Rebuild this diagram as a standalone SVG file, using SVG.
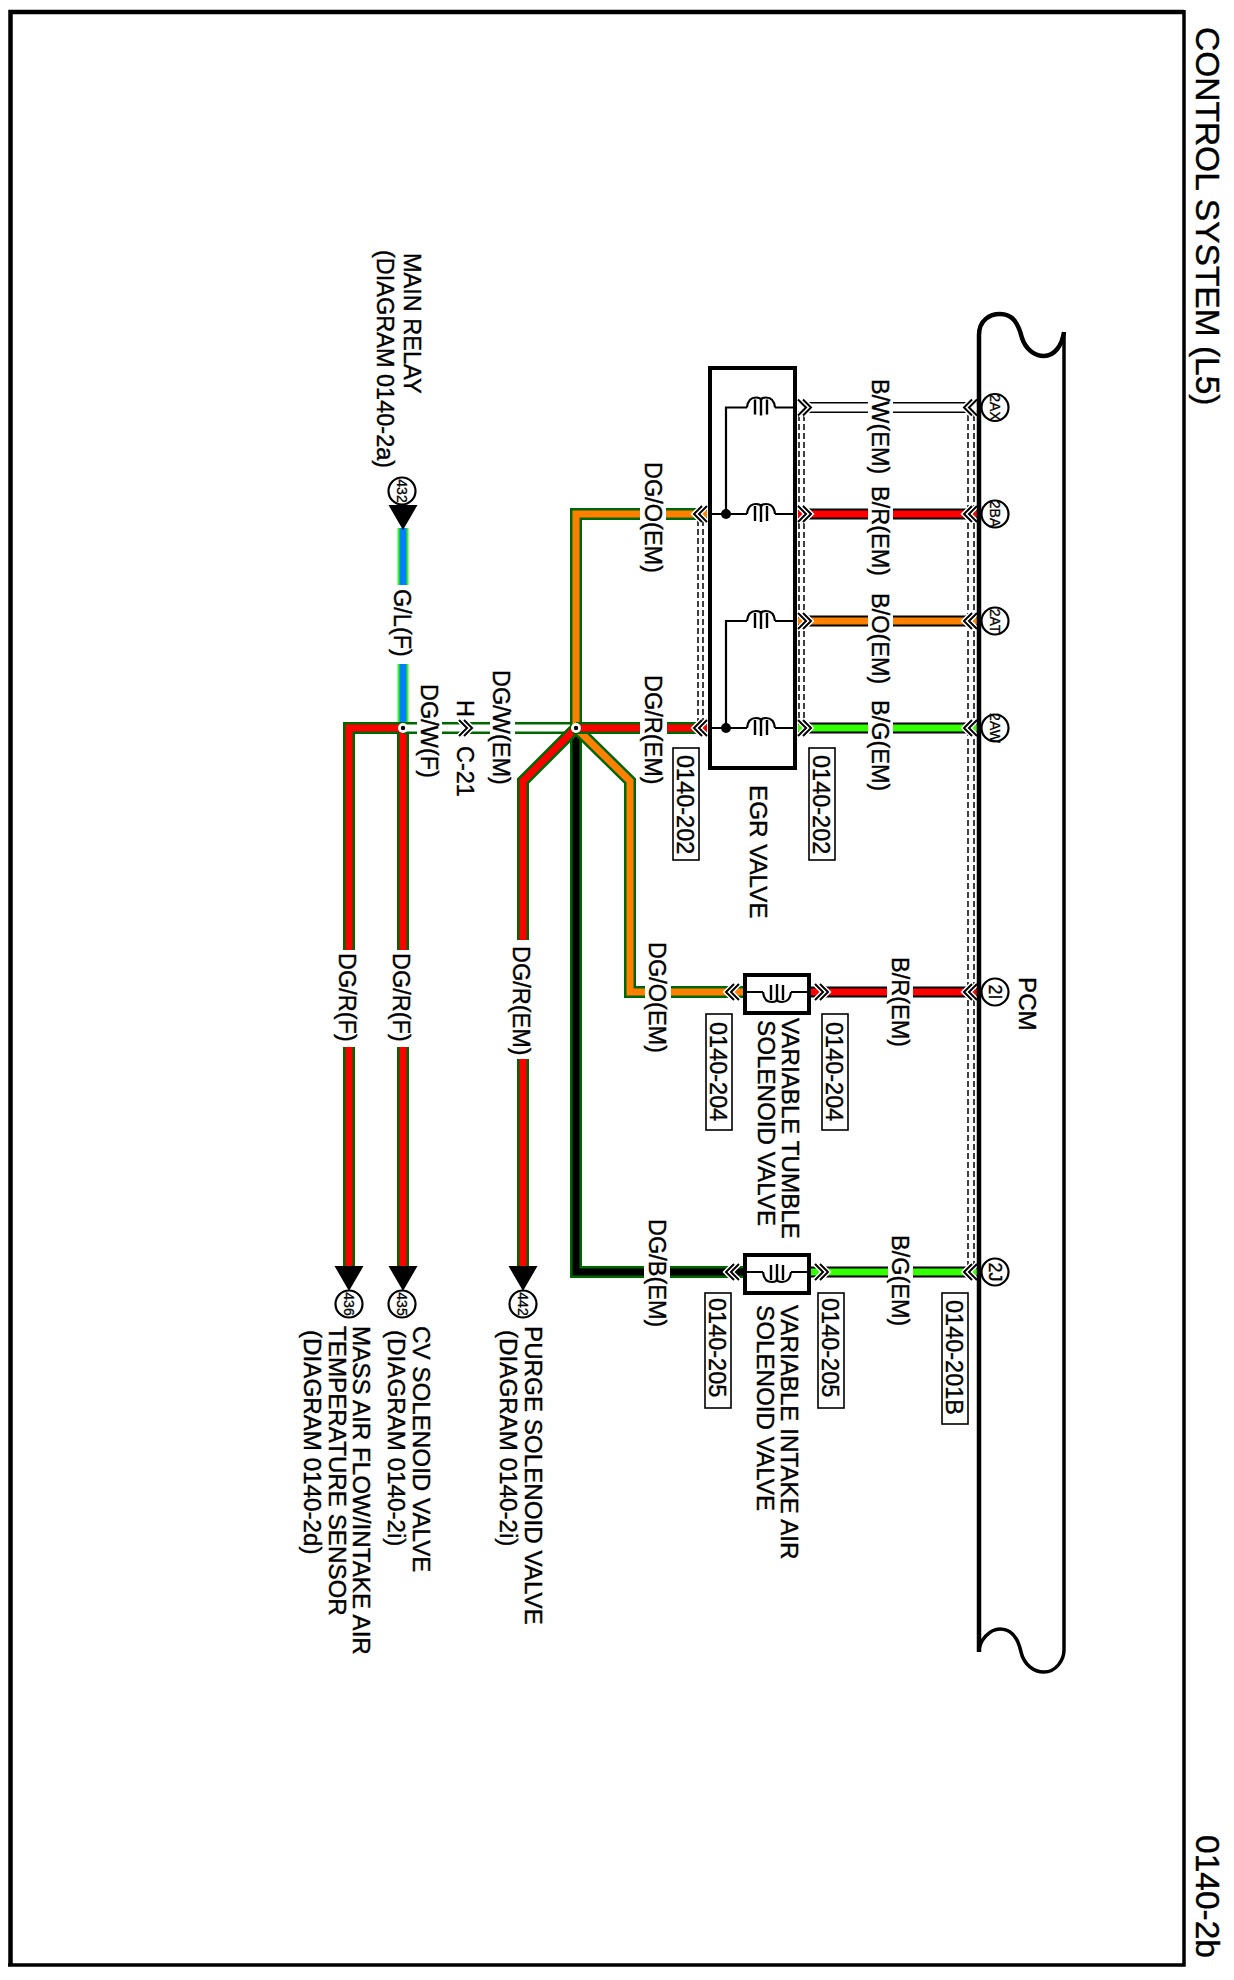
<svg xmlns="http://www.w3.org/2000/svg" width="1234" height="1980" viewBox="0 0 1234 1980">
<style>
.t{font-family:"Liberation Sans",Arial,sans-serif;font-size:23.5px;fill:#000;stroke:#000;stroke-width:.4}
.n{font-size:24.200px}
.h{font-size:33.500px}
.c{font-size:14px;text-anchor:middle;stroke-width:.3}
.c2{font-size:18px;text-anchor:middle}
.w{fill:none;stroke-linejoin:miter}
.o{stroke-width:12;stroke:#006600}
.ok{stroke-width:11;stroke:#000}
.ol{stroke-width:11;stroke:#33ff00}
.i{stroke-width:7}
.red{stroke:#ff0000}.org{stroke:#ff8000}.grn{stroke:#33ff00}.blu{stroke:#0080ff}.blk{stroke:#000}.wht{stroke:#fff}
.bus{fill:none;stroke:#000;stroke-linejoin:round}
.sh{fill:none;stroke:#000;stroke-width:1.500;stroke-dasharray:6 3}
.ln{fill:none;stroke:#000;stroke-width:2.200}
.pin{fill:#fff;stroke:#000;stroke-width:2.200}
.ref{fill:#fff;stroke:#000;stroke-width:1.600}
.box{fill:none;stroke:#000;stroke-width:4}
.sol{fill:#fff;stroke:#000;stroke-width:4}
</style>
<defs>
<g id="chevL"><path d="M9 -8L1 0L9 8M14 -8L6 0L14 8" fill="none" stroke="#fff" stroke-width="5"/><path d="M9 -8L1 0L9 8M14 -8L6 0L14 8" fill="none" stroke="#000" stroke-width="2"/></g>
<g id="chevR"><path d="M0 -8L8 0L0 8M5 -8L13 0L5 8" fill="none" stroke="#fff" stroke-width="5"/><path d="M0 -8L8 0L0 8M5 -8L13 0L5 8" fill="none" stroke="#000" stroke-width="2"/></g>
<g id="coil"><path d="M0 0Q1 -10 9 -10Q14 -10 14 -7Q14 -10 19 -10Q27 -10 28 0" fill="none" stroke="#000" stroke-width="2.200"/><path d="M8 -8V7M14 -8V8M20 -8V7" fill="none" stroke="#000" stroke-width="2.400"/></g>
<path id="arrow" d="M-14.500 0H14.500L0 25Z" fill="#000"/>
</defs>
<rect width="1234" height="1980" fill="#fff"/>
<g id="frame">
<path d="M10.500 1965V12H1184" fill="none" stroke="#000" stroke-width="4.500"/>
<path d="M1184 10V1965H8" fill="none" stroke="#000" stroke-width="3.500"/>
<text class="t h" transform="translate(1196 27) rotate(90)">CONTROL SYSTEM (L5)</text>
<text class="t h" transform="translate(1196 1835) rotate(90)">0140-2b</text>
</g>
<g id="connectors">
<path class="sh" d="M968 415V1265M974 415V1265M799 415V722M804 415V722M698 520V722M703 520V722"/>
<path class="w ok" d="M798 407.500H868M893 407.500H977"/><path class="w wht" style="stroke-width:8" d="M790 407.500H868M893 407.500H977"/>
<path class="w ok" d="M798 514H868M893 514H977"/><path class="w i red" d="M798 514H868M893 514H977"/>
<path class="w ok" d="M798 621H868M893 621H977"/><path class="w i org" d="M798 621H868M893 621H977"/>
<path class="w ok" d="M798 728H868M893 728H977"/><path class="w i grn" d="M798 728H868M893 728H977"/>
<path class="w ok" d="M809 992H887M913 992H977"/><path class="w i red" d="M809 992H887M913 992H977"/>
<path class="w ok" d="M809 1272H888M913 1272H977"/><path class="w i grn" d="M809 1272H888M913 1272H977"/>
<path class="w ol" d="M403 528V585M403 664V726"/><path class="w i blu" d="M403 528V585M403 664V726"/>
<path class="w o" d="M349 1268V1047M349 950V728H403V950M403 1047V1268"/><path class="w i red" d="M349 1268V1047M349 950V728H403V950M403 1047V1268"/>
<path class="w o" d="M403 728H417M442 728H490M515 728H576"/><path class="w i wht" d="M403 728H417M442 728H490M515 728H576"/>
<path class="w o" d="M576 728V1272H644M670 1272H743"/><path class="w i blk" d="M576 728V1272H644M670 1272H743"/>
<path class="w o" d="M576 728L523 781V940M523 1059V1268"/><path class="w i red" d="M576 728L523 781V940M523 1059V1268"/>
<path class="w o" d="M576 728L630 781V992H645M671 992H743"/><path class="w i org" d="M576 728L630 781V992H645M671 992H743"/>
<path class="w o" d="M576 728V514H640M666 514H707"/><path class="w i org" d="M576 728V514H640M666 514H707"/>
<path class="w o" d="M576 728H640M667 728H707"/><path class="w i red" d="M576 728H640M667 728H707"/>
<use href="#arrow" transform="translate(403 505)"/>
<use href="#arrow" transform="translate(349 1266)"/>
<use href="#arrow" transform="translate(403 1266)"/>
<use href="#arrow" transform="translate(523 1266)"/>
<circle cx="403" cy="728" r="5" fill="#fff"/><circle cx="403" cy="728" r="2.200" fill="#000"/>
<circle cx="576" cy="728" r="5" fill="#fff"/><circle cx="576" cy="728" r="2.200" fill="#000"/>
<use href="#chevR" transform="translate(459 728)"/>
<use href="#chevL" transform="translate(963 407.500)"/><use href="#chevL" transform="translate(963 514)"/><use href="#chevL" transform="translate(963 621)"/><use href="#chevL" transform="translate(963 728)"/><use href="#chevL" transform="translate(963 992)"/><use href="#chevL" transform="translate(963 1272)"/>
<use href="#chevR" transform="translate(798 407.500)"/><use href="#chevR" transform="translate(798 514)"/><use href="#chevR" transform="translate(798 621)"/><use href="#chevR" transform="translate(798 728)"/>
<use href="#chevR" transform="translate(815 992)"/><use href="#chevR" transform="translate(815 1272)"/>
<use href="#chevL" transform="translate(693 514)"/><use href="#chevL" transform="translate(693 728)"/>
<use href="#chevL" transform="translate(725 992)"/><use href="#chevL" transform="translate(725 1272)"/>
<text class="t" transform="translate(872 379) rotate(90)">B/W(EM)</text>
<text class="t" transform="translate(872 486) rotate(90)">B/R(EM)</text>
<text class="t" transform="translate(872 593) rotate(90)">B/O(EM)</text>
<text class="t" transform="translate(872 700) rotate(90)">B/G(EM)</text>
<text class="t" transform="translate(645 462) rotate(90)">DG/O(EM)</text>
<text class="t" transform="translate(645 675) rotate(90)">DG/R(EM)</text>
<text class="t" transform="translate(649 942) rotate(90)">DG/O(EM)</text>
<text class="t" transform="translate(649 1219) rotate(90)">DG/B(EM)</text>
<text class="t" transform="translate(892 957) rotate(90)">B/R(EM)</text>
<text class="t" transform="translate(892 1235) rotate(90)">B/G(EM)</text>
<text class="t" transform="translate(394 589) rotate(90)">G/L(F)</text>
<text class="t" transform="translate(421 684) rotate(90)">DG/W(F)</text>
<text class="t" transform="translate(493 670) rotate(90)">DG/W(EM)</text>
<text class="t" transform="translate(457 700) rotate(90)">H</text>
<text class="t" transform="translate(457 746) rotate(90)">C-21</text>
<text class="t" transform="translate(339 953) rotate(90)">DG/R(F)</text>
<text class="t" transform="translate(393 953) rotate(90)">DG/R(F)</text>
<text class="t" transform="translate(513 946) rotate(90)">DG/R(EM)</text>
<rect class="ref" x="673" y="748" width="26" height="112"/><text class="t" transform="translate(677 755) rotate(90)">0140-202</text>
<rect class="ref" x="809" y="748" width="26" height="112"/><text class="t" transform="translate(813 755) rotate(90)">0140-202</text>
<rect class="ref" x="706" y="1014" width="26" height="116"/><text class="t" transform="translate(710 1022) rotate(90)">0140-204</text>
<rect class="ref" x="822" y="1014" width="26" height="116"/><text class="t" transform="translate(826 1022) rotate(90)">0140-204</text>
<rect class="ref" x="705" y="1293" width="26" height="115"/><text class="t" transform="translate(709 1298) rotate(90)">0140-205</text>
<rect class="ref" x="818" y="1293" width="26" height="115"/><text class="t" transform="translate(822 1298) rotate(90)">0140-205</text>
<rect class="ref" x="942" y="1293" width="26" height="131"/><text class="t" transform="translate(946 1300) rotate(90)">0140-201B</text>
</g>
<g id="pcm">
<path class="bus" stroke-width="4.500" d="M979 1652V335C979 320 990 314 1000 314C1012 314 1018 322 1022 338C1026 350 1035 356 1044 356C1054 356 1062 346 1064 332"/>
<path class="bus" stroke-width="3.500" d="M1064 332V1650C1064 1660 1056 1672 1044 1672C1034 1672 1024 1665 1021 1652C1018 1638 1012 1629 1000 1629C990 1629 979 1640 979 1652"/>
<text class="t n" transform="translate(1019 977) rotate(90)">PCM</text>
<circle class="pin" cx="995" cy="407.500" r="13.500"/><text class="t c" transform="translate(990 407.500) rotate(90)">2AX</text>
<circle class="pin" cx="995" cy="514" r="13.500"/><text class="t c" transform="translate(990 514) rotate(90)">2BA</text>
<circle class="pin" cx="995" cy="621" r="13.500"/><text class="t c" transform="translate(990 621) rotate(90)">2AT</text>
<circle class="pin" cx="995" cy="728" r="13.500"/><text class="t c" transform="translate(990 728) rotate(90)">2AW</text>
<circle class="pin" cx="995" cy="992" r="13.500"/><text class="t c2" transform="translate(989 992) rotate(90)">2I</text>
<circle class="pin" cx="995" cy="1272" r="13.500"/><text class="t c2" transform="translate(989 1272) rotate(90)">2J</text>
</g>
<g id="egr-valve">
<rect class="box" x="710" y="368" width="85" height="400"/>
<path class="ln" d="M747 407.500H726V514M709 514H747M775 407.500H795M775 514H795M747 621H726V728M709 728H747M775 621H795M775 728H795"/>
<circle cx="726" cy="514" r="5" fill="#000"/><circle cx="726" cy="728" r="5" fill="#000"/>
<use href="#coil" transform="translate(747 407.500)"/><use href="#coil" transform="translate(747 514)"/><use href="#coil" transform="translate(747 621)"/><use href="#coil" transform="translate(747 728)"/>
<text class="t n" transform="translate(750 785) rotate(90)">EGR VALVE</text>
</g>
<g id="variable-tumble-solenoid-valve">
<rect class="sol" x="745" y="975" width="64" height="38"/>
<path class="ln" d="M745 992H763M791 992H809"/>
<use href="#coil" transform="translate(763 992) scale(1 -1)"/>
<text class="t n" transform="translate(782 1018) rotate(90)">VARIABLE TUMBLE</text>
<text class="t n" transform="translate(758 1020) rotate(90)">SOLENOID VALVE</text>
</g>
<g id="variable-intake-air-solenoid-valve">
<rect class="sol" x="745" y="1255" width="64" height="38"/>
<path class="ln" d="M745 1272H763M791 1272H809"/>
<use href="#coil" transform="translate(763 1272) scale(1 -1)"/>
<text class="t n" transform="translate(781 1305) rotate(90)">VARIABLE INTAKE AIR</text>
<text class="t n" transform="translate(757 1305) rotate(90)">SOLENOID VALVE</text>
</g>
<g id="main-relay">
<circle class="pin" cx="402" cy="491" r="13.500"/><text class="t c" transform="translate(397 491) rotate(90)">432</text>
<text class="t" transform="translate(404 253) rotate(90)">MAIN RELAY</text>
<text class="t" transform="translate(377 250) rotate(90)">(DIAGRAM 0140-2a)</text>
</g>
<g id="mass-air-flow-sensor">
<circle class="pin" cx="349" cy="1304" r="13.500"/><text class="t c" transform="translate(344 1304) rotate(90)">436</text>
<text class="t n" transform="translate(353 1326) rotate(90)">MASS AIR FLOW/INTAKE AIR</text>
<text class="t n" transform="translate(329 1326) rotate(90)">TEMPERATURE SENSOR</text>
<text class="t n" transform="translate(304 1330) rotate(90)">(DIAGRAM 0140-2d)</text>
</g>
<g id="cv-solenoid-valve">
<circle class="pin" cx="402" cy="1304" r="13.500"/><text class="t c" transform="translate(397 1304) rotate(90)">435</text>
<text class="t n" transform="translate(413 1326) rotate(90)">CV SOLENOID VALVE</text>
<text class="t n" transform="translate(388 1330) rotate(90)">(DIAGRAM 0140-2i)</text>
</g>
<g id="purge-solenoid-valve">
<circle class="pin" cx="523" cy="1304" r="13.500"/><text class="t c" transform="translate(518 1304) rotate(90)">442</text>
<text class="t n" transform="translate(525 1326) rotate(90)">PURGE SOLENOID VALVE</text>
<text class="t n" transform="translate(500 1330) rotate(90)">(DIAGRAM 0140-2i)</text>
</g>
</svg>
